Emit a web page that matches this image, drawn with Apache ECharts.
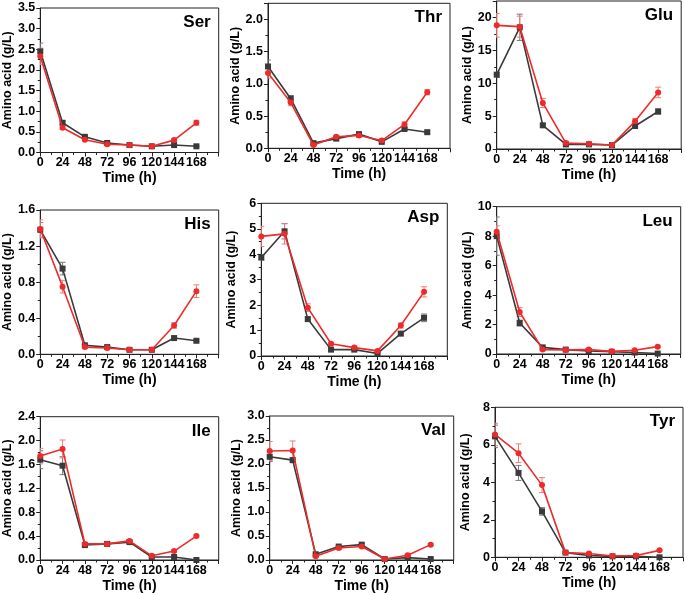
<!DOCTYPE html>
<html>
<head>
<meta charset="utf-8">
<script src="https://cdn.jsdelivr.net/npm/echarts@6/dist/echarts.min.js"></script>
<style>html,body{margin:0;padding:0;background:#fff;}#c{width:685px;height:594px;}</style>
</head>
<body>
<div id="c"></div>
<script>
// ---- data ----
const hours = [0, 24, 48, 72, 96, 120, 144, 168];
const xTicks = [0, 24, 48, 72, 96, 120, 144, 168];
const panelNames = ['Ser', 'Thr', 'Glu', 'His', 'Asp', 'Leu', 'Ile', 'Val', 'Tyr'];

const serBlack = [2.45, 0.72, 0.38, 0.23, 0.18, 0.15, 0.18, 0.15];
const serRed   = [2.33, 0.60, 0.31, 0.20, 0.18, 0.15, 0.30, 0.72];
const serBlackErr = [0.2, 0.04, 0.02, 0.02, 0.01, 0.01, 0.02, 0.01];
const serRedErr   = [0.2, 0.04, 0.03, 0.03, 0.02, 0.02, 0.03, 0.06];

const thrBlack = [1.27, 0.77, 0.08, 0.15, 0.22, 0.10, 0.30, 0.25];
const thrRed   = [1.17, 0.71, 0.05, 0.18, 0.20, 0.12, 0.37, 0.87];
const thrBlackErr = [0.10, 0.05, 0.01, 0.02, 0.03, 0.02, 0.02, 0.02];
const thrRedErr   = [0.08, 0.05, 0.01, 0.02, 0.03, 0.02, 0.04, 0.04];

const gluBlack = [11.3, 18.5, 3.6, 0.7, 0.7, 0.6, 3.5, 5.7];
const gluRed   = [18.8, 18.6, 7.0, 0.9, 0.8, 0.6, 4.2, 8.6];
const gluBlackErr = [0.4, 2.0, 0.2, 0.1, 0.1, 0.1, 0.2, 0.4];
const gluRedErr   = [1.8, 1.6, 0.7, 0.2, 0.2, 0.1, 0.4, 0.8];

const hisBlack = [1.38, 0.95, 0.10, 0.08, 0.05, 0.05, 0.18, 0.15];
const hisRed   = [1.39, 0.75, 0.08, 0.07, 0.05, 0.05, 0.32, 0.70];
const hisBlackErr = [0.08, 0.07, 0.01, 0.01, 0.01, 0.01, 0.01, 0.01];
const hisRedErr   = [0.10, 0.07, 0.01, 0.01, 0.01, 0.01, 0.03, 0.07];

const aspBlack = [3.87, 4.90, 1.45, 0.25, 0.25, 0.10, 0.88, 1.50];
const aspRed   = [4.70, 4.80, 1.90, 0.48, 0.33, 0.20, 1.20, 2.52];
const aspBlackErr = [0.10, 0.30, 0.08, 0.05, 0.05, 0.03, 0.08, 0.15];
const aspRedErr   = [0.40, 0.40, 0.15, 0.05, 0.05, 0.04, 0.10, 0.20];

const leuBlack = [8.0, 2.10, 0.45, 0.30, 0.20, 0.15, 0.10, 0.03];
const leuRed   = [8.3, 2.85, 0.30, 0.28, 0.30, 0.18, 0.25, 0.50];
const leuBlackErr = [1.3, 0.20, 0.05, 0.03, 0.03, 0.02, 0.02, 0.02];
const leuRedErr   = [0.4, 0.30, 0.05, 0.03, 0.03, 0.02, 0.03, 0.05];

const ileBlack = [1.68, 1.58, 0.25, 0.27, 0.30, 0.05, 0.05, 0.00];
const ileRed   = [1.74, 1.86, 0.27, 0.27, 0.32, 0.07, 0.15, 0.40];
const ileBlackErr = [0.15, 0.15, 0.02, 0.02, 0.02, 0.01, 0.01, 0.01];
const ileRedErr   = [0.13, 0.15, 0.02, 0.02, 0.02, 0.01, 0.02, 0.02];

const valBlack = [2.15, 2.08, 0.12, 0.28, 0.32, 0.02, 0.05, 0.02];
const valRed   = [2.27, 2.28, 0.08, 0.25, 0.28, 0.02, 0.10, 0.32];
const valBlackErr = [0.10, 0.05, 0.02, 0.02, 0.02, 0.01, 0.01, 0.01];
const valRedErr   = [0.20, 0.20, 0.02, 0.02, 0.02, 0.01, 0.02, 0.02];

const tyrBlack = [6.45, 4.50, 2.45, 0.25, 0.10, 0.05, 0.05, 0.00];
const tyrRed   = [6.55, 5.55, 3.85, 0.25, 0.20, 0.07, 0.10, 0.37];
const tyrBlackErr = [0.60, 0.40, 0.20, 0.05, 0.03, 0.02, 0.02, 0.01];
const tyrRedErr   = [0.60, 0.50, 0.40, 0.05, 0.03, 0.02, 0.02, 0.03];

const blackSeries = [serBlack, thrBlack, gluBlack, hisBlack, aspBlack, leuBlack, ileBlack, valBlack, tyrBlack];
const redSeries   = [serRed, thrRed, gluRed, hisRed, aspRed, leuRed, ileRed, valRed, tyrRed];
const blackErrs   = [serBlackErr, thrBlackErr, gluBlackErr, hisBlackErr, aspBlackErr, leuBlackErr, ileBlackErr, valBlackErr, tyrBlackErr];
const redErrs     = [serRedErr, thrRedErr, gluRedErr, hisRedErr, aspRedErr, leuRedErr, ileRedErr, valRedErr, tyrRedErr];

const yMax      = [3.5, 2.25, 22.5, 1.6, 6, 10, 2.4, 3.0, 8];
const yInterval = [0.5, 0.5, 5, 0.4, 1, 2, 0.4, 0.5, 2];
const yDecimals = [1, 1, 0, 1, 0, 0, 1, 1, 0];
const xMax = 192;

// ---- layout (pixel boxes of each plot area) ----
const boxes = [
  {l: 37.7, t: 8,     w: 181, h: 144.5},
  {l: 268,  t: 3.3,   w: 182, h: 145},
  {l: 496.7,t: 1,     w: 184.5,h: 148},
  {l: 37.7, t: 210,   w: 181, h: 144.3},
  {l: 261.3,t: 203.3, w: 186, h: 152.7},
  {l: 496.7,t: 206.7, w: 184, h: 147.3},
  {l: 37.7, t: 416.7, w: 181, h: 143.3},
  {l: 269.7,t: 416,   w: 184, h: 144},
  {l: 495,  t: 407.3, w: 188, h: 150}
];

const FONT = "'Liberation Sans', Arial, sans-serif";
const BLACK = '#3a3a3a', RED = '#ee2b2b';
const BLACK_ERR = '#7a7a7a', RED_ERR = '#f07a7a';

function pairs(vals, errs) {
  return hours.map((h, i) => errs ? [h, vals[i], errs[i]] : [h, vals[i]]);
}
function errRender(color) {
  return function (params, api) {
    const x = api.value(0), y = api.value(1), e = api.value(2);
    const hi = api.coord([x, y + e]);
    const lo = api.coord([x, Math.max(0, y - e)]);
    const hw = 3;
    const st = {stroke: color, lineWidth: 1};
    return {type: 'group', children: [
      {type: 'line', shape: {x1: hi[0], y1: hi[1], x2: lo[0], y2: lo[1]}, style: st},
      {type: 'line', shape: {x1: hi[0] - hw, y1: hi[1], x2: hi[0] + hw, y2: hi[1]}, style: st},
      {type: 'line', shape: {x1: lo[0] - hw, y1: lo[1], x2: lo[0] + hw, y2: lo[1]}, style: st}
    ]};
  };
}

const grid = [], xAxis = [], yAxis = [], series = [], title = [];
boxes.forEach((b, i) => {
  grid.push({left: b.l, top: b.t, width: b.w, height: b.h, show: true,
    borderColor: '#222', borderWidth: 1, backgroundColor: 'transparent', containLabel: false});
  xAxis.push({type: 'value', gridIndex: i, min: 0, max: xMax, interval: 24,
    name: 'Time (h)', nameLocation: 'middle', nameGap: 19,
    nameTextStyle: {fontFamily: FONT, fontWeight: 'bold', fontSize: 14, color: '#000'},
    axisLine: {lineStyle: {color: '#222', width: 1}},
    axisTick: {show: true, length: 4, lineStyle: {color: '#222'}},
    minorTick: {show: true, splitNumber: 2, length: 2.5, lineStyle: {color: '#222'}},
    splitLine: {show: false},
    axisLabel: {showMaxLabel: false, margin: 4, fontFamily: FONT, fontWeight: 'bold', fontSize: 12.5, color: '#000',
      formatter: v => (xTicks.indexOf(v) >= 0 ? String(v) : '')}
  });
  const dec = yDecimals[i], itv = yInterval[i];
  yAxis.push({type: 'value', gridIndex: i, min: 0, max: yMax[i], interval: itv,
    name: 'Amino acid (g/L)', nameLocation: 'middle', nameGap: 23, nameRotate: 90,
    nameTextStyle: {fontFamily: FONT, fontWeight: 'bold', fontSize: 12.5, color: '#000'},
    axisLine: {show: true, lineStyle: {color: '#222', width: 1}},
    axisTick: {show: true, length: 4, lineStyle: {color: '#222'}},
    minorTick: {show: true, splitNumber: 2, length: 2.5, lineStyle: {color: '#222'}},
    splitLine: {show: false},
    axisLabel: {margin: 5, fontFamily: FONT, fontWeight: 'bold', fontSize: 12.5, color: '#000',
      formatter: v => {
        const k = v / itv;
        if (Math.abs(k - Math.round(k)) > 1e-6) return '';
        return v.toFixed(dec);
      }}
  });
  title.push({text: panelNames[i], right: 685 - (b.l + b.w) + 8, top: b.t + 6, padding: 0,
    textStyle: {fontFamily: FONT, fontWeight: 'bold', fontSize: 17, color: '#000'}});
  series.push({type: 'custom', xAxisIndex: i, yAxisIndex: i, data: pairs(blackSeries[i], blackErrs[i]),
    renderItem: errRender(BLACK_ERR), z: 2, clip: true, silent: true});
  series.push({type: 'custom', xAxisIndex: i, yAxisIndex: i, data: pairs(redSeries[i], redErrs[i]),
    renderItem: errRender(RED_ERR), z: 2, clip: true, silent: true});
  series.push({type: 'line', xAxisIndex: i, yAxisIndex: i, data: pairs(blackSeries[i]),
    symbol: 'rect', symbolSize: 6, lineStyle: {color: BLACK, width: 1.6},
    itemStyle: {color: BLACK}, z: 3, animation: false});
  series.push({type: 'line', xAxisIndex: i, yAxisIndex: i, data: pairs(redSeries[i]),
    symbol: 'circle', symbolSize: 6, lineStyle: {color: RED, width: 1.6},
    itemStyle: {color: RED}, z: 4, animation: false});
});

const chart = echarts.init(document.getElementById('c'), null, {renderer: 'canvas'});
chart.setOption({animation: false, backgroundColor: '#fff', title, grid, xAxis, yAxis, series});
</script>
</body>
</html>
